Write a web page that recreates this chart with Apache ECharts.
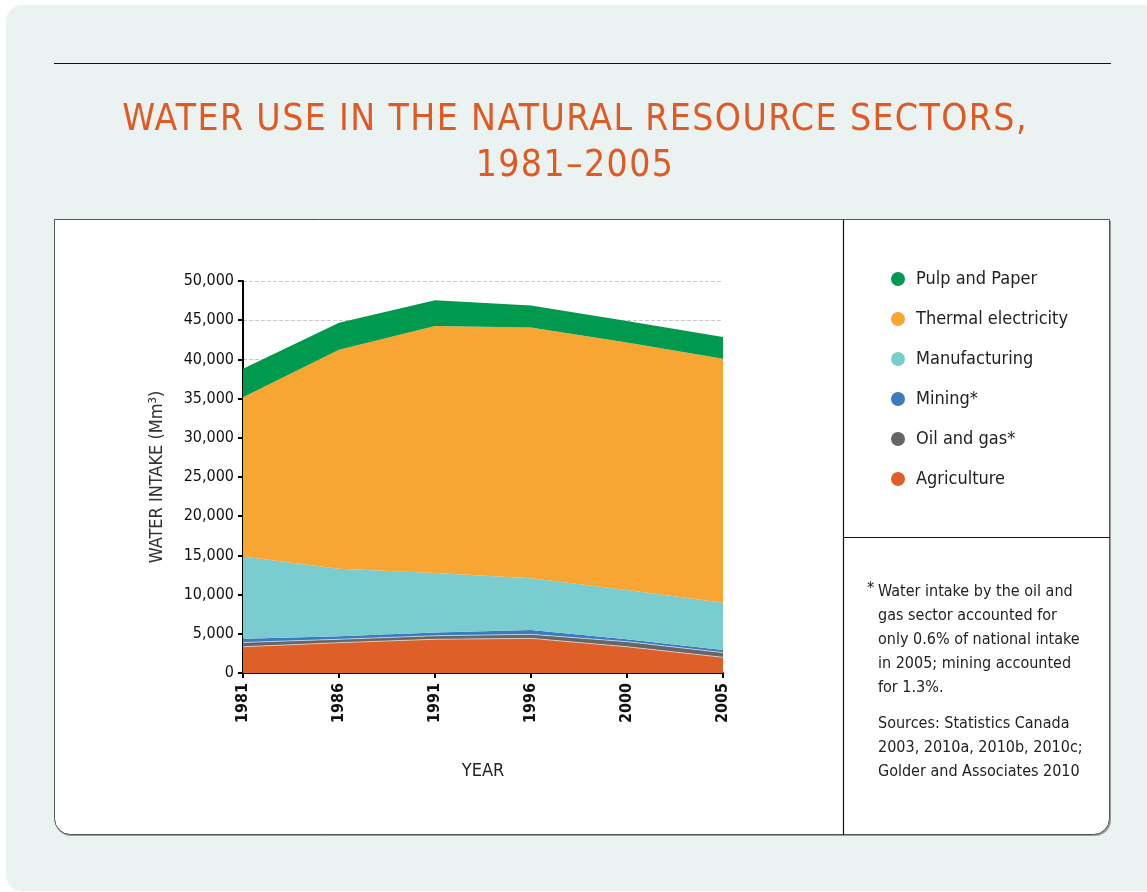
<!DOCTYPE html>
<html>
<head>
<meta charset="utf-8">
<script src="https://cdn.jsdelivr.net/npm/echarts@6/dist/echarts.min.js"></script>
<style>
html,body{margin:0;padding:0;background:#fff;}
#wrap{position:relative;width:1147px;height:892px;overflow:hidden;}
#chart{position:absolute;left:0;top:0;width:1147px;height:892px;}
#title{position:absolute;left:0;top:95px;width:1150px;text-align:center;color:#e05a24;
font-family:'Liberation Sans Narrow','DejaVu Sans Condensed','Roboto',sans-serif;font-size:37px;line-height:46px;letter-spacing:1.4px;}
</style>
</head>
<body>
<div id="wrap">
<div id="chart"></div>
<div id="title">WATER USE IN THE NATURAL RESOURCE SECTORS,<br>1981–2005</div>
</div>
<script>
var years = ['1981','1986','1991','1996','2000','2005'];
var agriculture   = [3350, 3870, 4300, 4420, 3350, 2000];
var oilAndGas     = [550, 430, 450, 510, 650, 600];
var mining        = [480, 380, 420, 550, 300, 330];
var manufacturing = [10490, 8610, 7570, 6610, 6290, 6040];
var thermal       = [20300, 27950, 31530, 31970, 31550, 31120];
var pulpPaper     = [3630, 3420, 3290, 2820, 2760, 2770];
var seriesNames = ['Agriculture','Oil and gas*','Mining*','Manufacturing','Thermal electricity','Pulp and Paper'];
var seriesColors = ['#de5f28','#666666','#3a7bbf','#79cdcf','#f7a533','#009a4e'];
var seriesData = [agriculture, oilAndGas, mining, manufacturing, thermal, pulpPaper];
var legendOrder = ['Pulp and Paper','Thermal electricity','Manufacturing','Mining*','Oil and gas*','Agriculture'];
var noteLines = ['Water intake by the oil and','gas sector accounted for','only 0.6% of national intake','in 2005; mining accounted','for 1.3%.'];
var sourceLines = ['Sources: Statistics Canada','2003, 2010a, 2010b, 2010c;','Golder and Associates 2010'];

var FONT = "'Liberation Sans Narrow','DejaVu Sans Condensed','Roboto',sans-serif";

var chart = echarts.init(document.getElementById('chart'), null, {renderer:'canvas'});

var series = seriesNames.map(function(n, i){
  return {
    name: n, type: 'line', stack: 'total', data: seriesData[i],
    symbol: 'none', smooth: false,
    lineStyle: {width: (i < 2 ? 1 : 0), color: 'rgba(230,230,230,0.7)'},
    itemStyle: {color: seriesColors[i]},
    areaStyle: {color: seriesColors[i], opacity: 1},
    emphasis: {disabled: true}
  };
});

var graphics = [
  {type:'rect', z:-10, shape:{x:6,y:5,width:1160,height:886,r:16}, style:{fill:'#eaf3f1'}},
  {type:'line', z:-5, shape:{x1:54,y1:63.5,x2:1111,y2:63.5}, style:{stroke:'#111',lineWidth:1.2}},
  {type:'rect', z:-6, shape:{x:55,y:221,width:1056,height:615,r:[0,0,16,16]}, style:{fill:'#9a9a9a'}},
  {type:'rect', z:-5, shape:{x:54.5,y:219.5,width:1055,height:615,r:[0,0,16,16]}, style:{fill:'#fff',stroke:'#555',lineWidth:1}},
  {type:'line', z:-4, shape:{x1:843.5,y1:220,x2:843.5,y2:835}, style:{stroke:'#111',lineWidth:1.2}},
  {type:'line', z:-4, shape:{x1:843,y1:537.5,x2:1110,y2:537.5}, style:{stroke:'#111',lineWidth:1.2}},
  {type:'text', left:867, top:581, style:{text:'*', font:'16px '+FONT, fill:'#222'}}
];
graphics.push({type:'text', left:878, top:580, style:{text: noteLines.join('\n'), font:'16px '+FONT, lineHeight:24, fill:'#222'}});
graphics.push({type:'text', left:878, top:712, style:{text: sourceLines.join('\n'), font:'16px '+FONT, lineHeight:24, fill:'#222'}});

chart.setOption({
  animation: false,
  textStyle: {fontFamily: FONT},
  grid: {left: 243, right: 424, top: 281, bottom: 219, containLabel: false},
  legend: {
    data: legendOrder, orient: 'vertical', left: 886, top: 264,
    icon: 'circle', itemWidth: 14, itemHeight: 14, itemGap: 20,
    selectedMode: false,
    textStyle: {fontSize: 18, color: '#222', lineHeight: 20, padding: [0,0,0,6], fontFamily: FONT}
  },
  xAxis: {
    type: 'category', data: years, boundaryGap: false,
    name: 'YEAR', nameLocation: 'middle', nameGap: 89,
    nameTextStyle: {fontSize: 18, color: '#222', fontFamily: FONT},
    axisLine: {lineStyle: {color: '#000', width: 2}},
    axisTick: {show: true, length: 5, lineStyle: {color: '#000', width: 2}},
    axisLabel: {rotate: 90, fontSize: 16, color: '#111', fontWeight: 'bold', margin: 10, fontFamily: FONT},
    splitLine: {show: false}
  },
  yAxis: {
    type: 'value', min: 0, max: 50000, interval: 5000,
    name: 'WATER INTAKE (Mm³)', nameLocation: 'middle', nameGap: 77, nameRotate: 90,
    nameTextStyle: {fontSize: 18, color: '#333', fontFamily: FONT},
    axisLine: {show: true, lineStyle: {color: '#000', width: 2}},
    axisTick: {show: true, length: 5, lineStyle: {color: '#000', width: 2}},
    axisLabel: {fontSize: 16, color: '#111', margin: 9, fontFamily: FONT,
      formatter: function(v){ return v.toString().replace(/\B(?=(\d{3})+(?!\d))/g, ','); }},
    splitLine: {show: true, lineStyle: {color: '#c8c8c8', type: 'dashed', width: 1}}
  },
  graphic: graphics,
  series: series
});
</script>
</body>
</html>
